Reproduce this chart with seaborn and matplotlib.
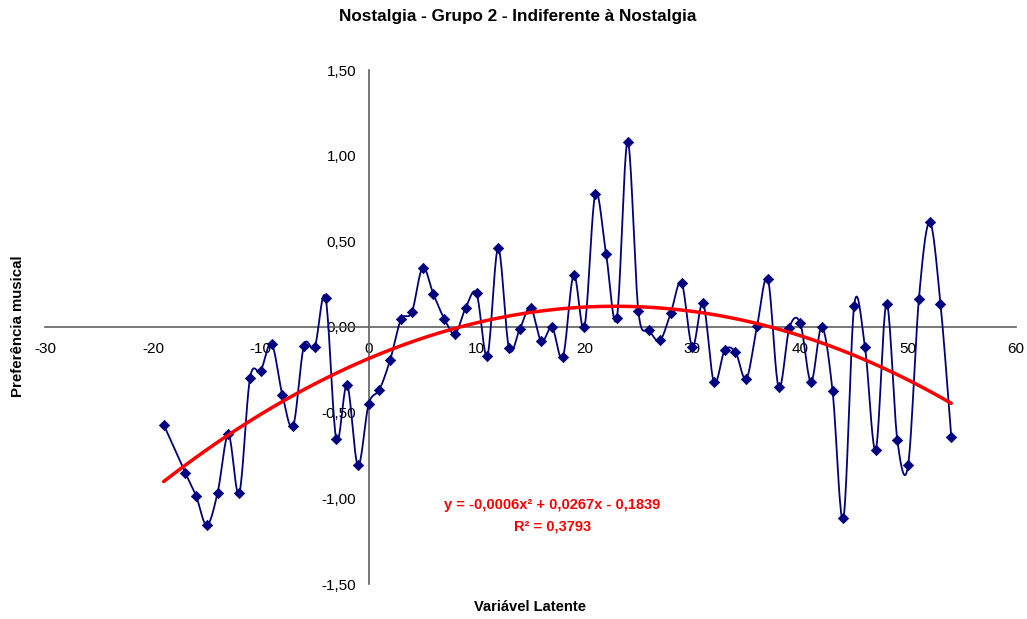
import numpy as np
import pandas as pd
import matplotlib
matplotlib.use("Agg")
import matplotlib.pyplot as plt
import seaborn as sns

# Dados
latente = [-19, -17, -16, -15, -14, -13, -12, -11, -10, -9, -8, -7, -6, -5, -4,
           -3, -2, -1, 0, 1, 2, 3, 4, 5, 6, 7, 8, 9, 10, 11, 12, 13, 14, 15,
           16, 17, 18, 19, 20, 21, 22, 23, 24, 25, 26, 27, 28, 29, 30, 31, 32,
           33, 34, 35, 36, 37, 38, 39, 40, 41, 42, 43, 44, 45, 46, 47, 48, 49,
           50, 51, 52, 53, 54]
preferencia = [-0.57, -0.85, -0.985, -1.157, -0.967, -0.627, -0.971, -0.299,
               -0.254, -0.097, -0.396, -0.577, -0.109, -0.118, 0.172,
               -0.656, -0.338, -0.808, -0.45, -0.365, -0.19, 0.044, 0.086,
               0.346, 0.192, 0.049, -0.039, 0.113, 0.196, -0.167, 0.46,
               -0.122, -0.013, 0.113, -0.083, -0.002, -0.177, 0.305, 0.0,
               0.775, 0.428, 0.051, 1.082, 0.091, -0.019, -0.078, 0.082,
               0.259, -0.117, 0.138, -0.322, -0.136, -0.146, -0.303, 0.006,
               0.28, -0.353, -0.004, 0.023, -0.32, 0.0, -0.375, -1.117,
               0.125, -0.116, -0.715, 0.136, -0.66, -0.806, 0.165, 0.612,
               0.136, -0.641]

yticks = [-1.5, -1.0, -0.5, 0.0, 0.5, 1.0, 1.5]
xticks = [-30, -20, -10, 0, 10, 20, 30, 40, 50, 60]

df = pd.DataFrame({"x": latente, "y": preferencia})


# linha suavizada tipo Excel (Catmull-Rom / Bezier)
def suavizar(xs, ys, n=20):
    p = np.column_stack([xs, ys]).astype(float)
    p = np.vstack([p[0], p, p[-1]])
    pts = []
    t = np.linspace(0, 1, n)[:, None]
    for i in range(1, len(p) - 2):
        p0, p3 = p[i], p[i + 1]
        b1 = p0 + (p[i + 1] - p[i - 1]) / 6
        b2 = p3 - (p[i + 2] - p[i]) / 6
        seg = ((1 - t) ** 3) * p0 + 3 * ((1 - t) ** 2) * t * b1 + 3 * (1 - t) * t ** 2 * b2 + t ** 3 * p3
        pts.append(seg if i == 1 else seg[1:])
    pts = np.vstack(pts)
    return pts[:, 0], pts[:, 1]


sx, sy = suavizar(df["x"], df["y"])

sns.set_style("white")
plt.rcParams["font.family"] = ["Liberation Sans", "DejaVu Sans"]
plt.rcParams["text.color"] = "black"

fig = plt.figure(figsize=(10.27, 6.19), dpi=100)
ax = fig.add_axes([45 / 1027, 1 - 584 / 619, (1016 - 45) / 1027, (584 - 70) / 619])

ax.plot(sx, sy, color="#000080", lw=1.3, zorder=3)
sns.scatterplot(data=df, x="x", y="y", marker="D", s=28, color="#000080",
                edgecolor="#000080", linewidth=0.5, ax=ax, zorder=4)
sns.regplot(data=df, x="x", y="y", order=2, scatter=False, ci=None, truncate=True,
            line_kws={"color": "#ff0000", "lw": 2.5, "zorder": 5}, ax=ax)

ax.set_xlim(-30, 60)
ax.set_ylim(-1.5, 1.5)
ax.set_xticks(xticks)
ax.set_xticklabels([str(v) for v in xticks])
ax.set_yticks(yticks)
ax.set_yticklabels([f"{v:.2f}".replace(".", ",") for v in yticks])

for s in ["top", "right"]:
    ax.spines[s].set_visible(False)
ax.spines["left"].set_position(("data", 0))
ax.spines["bottom"].set_position(("data", 0))
for s in ["left", "bottom"]:
    ax.spines[s].set_color("#606060")
    ax.spines[s].set_linewidth(1.2)
ax.tick_params(axis="both", direction="out", length=4, width=1, color="#606060",
               labelsize=11, labelcolor="black", pad=5)
ax.tick_params(axis="x", pad=7)
ax.set_xlabel("")
ax.set_ylabel("")

fig.text(518 / 1027, 1 - 17 / 619, "Nostalgia - Grupo 2 - Indiferente à Nostalgia",
         ha="center", va="center", fontsize=12.3, fontweight="bold", color="black")
fig.text(530 / 1027, 1 - 607 / 619, "Variável Latente",
         ha="center", va="center", fontsize=10.6, fontweight="bold", color="black")
fig.text(18 / 1027, 1 - 326 / 619, "Preferência musical", rotation=90,
         ha="center", va="center", fontsize=10.8, fontweight="bold", color="black")

ax.text(17.0, -1.039, "y = -0,0006x² + 0,0267x - 0,1839", color="#ff0000",
        ha="center", va="center", fontsize=10.5, fontweight="bold")
ax.text(17.0, -1.167, "R² = 0,3793", color="#ff0000",
        ha="center", va="center", fontsize=10.5, fontweight="bold")

fig.savefig("out.png", dpi=100)
